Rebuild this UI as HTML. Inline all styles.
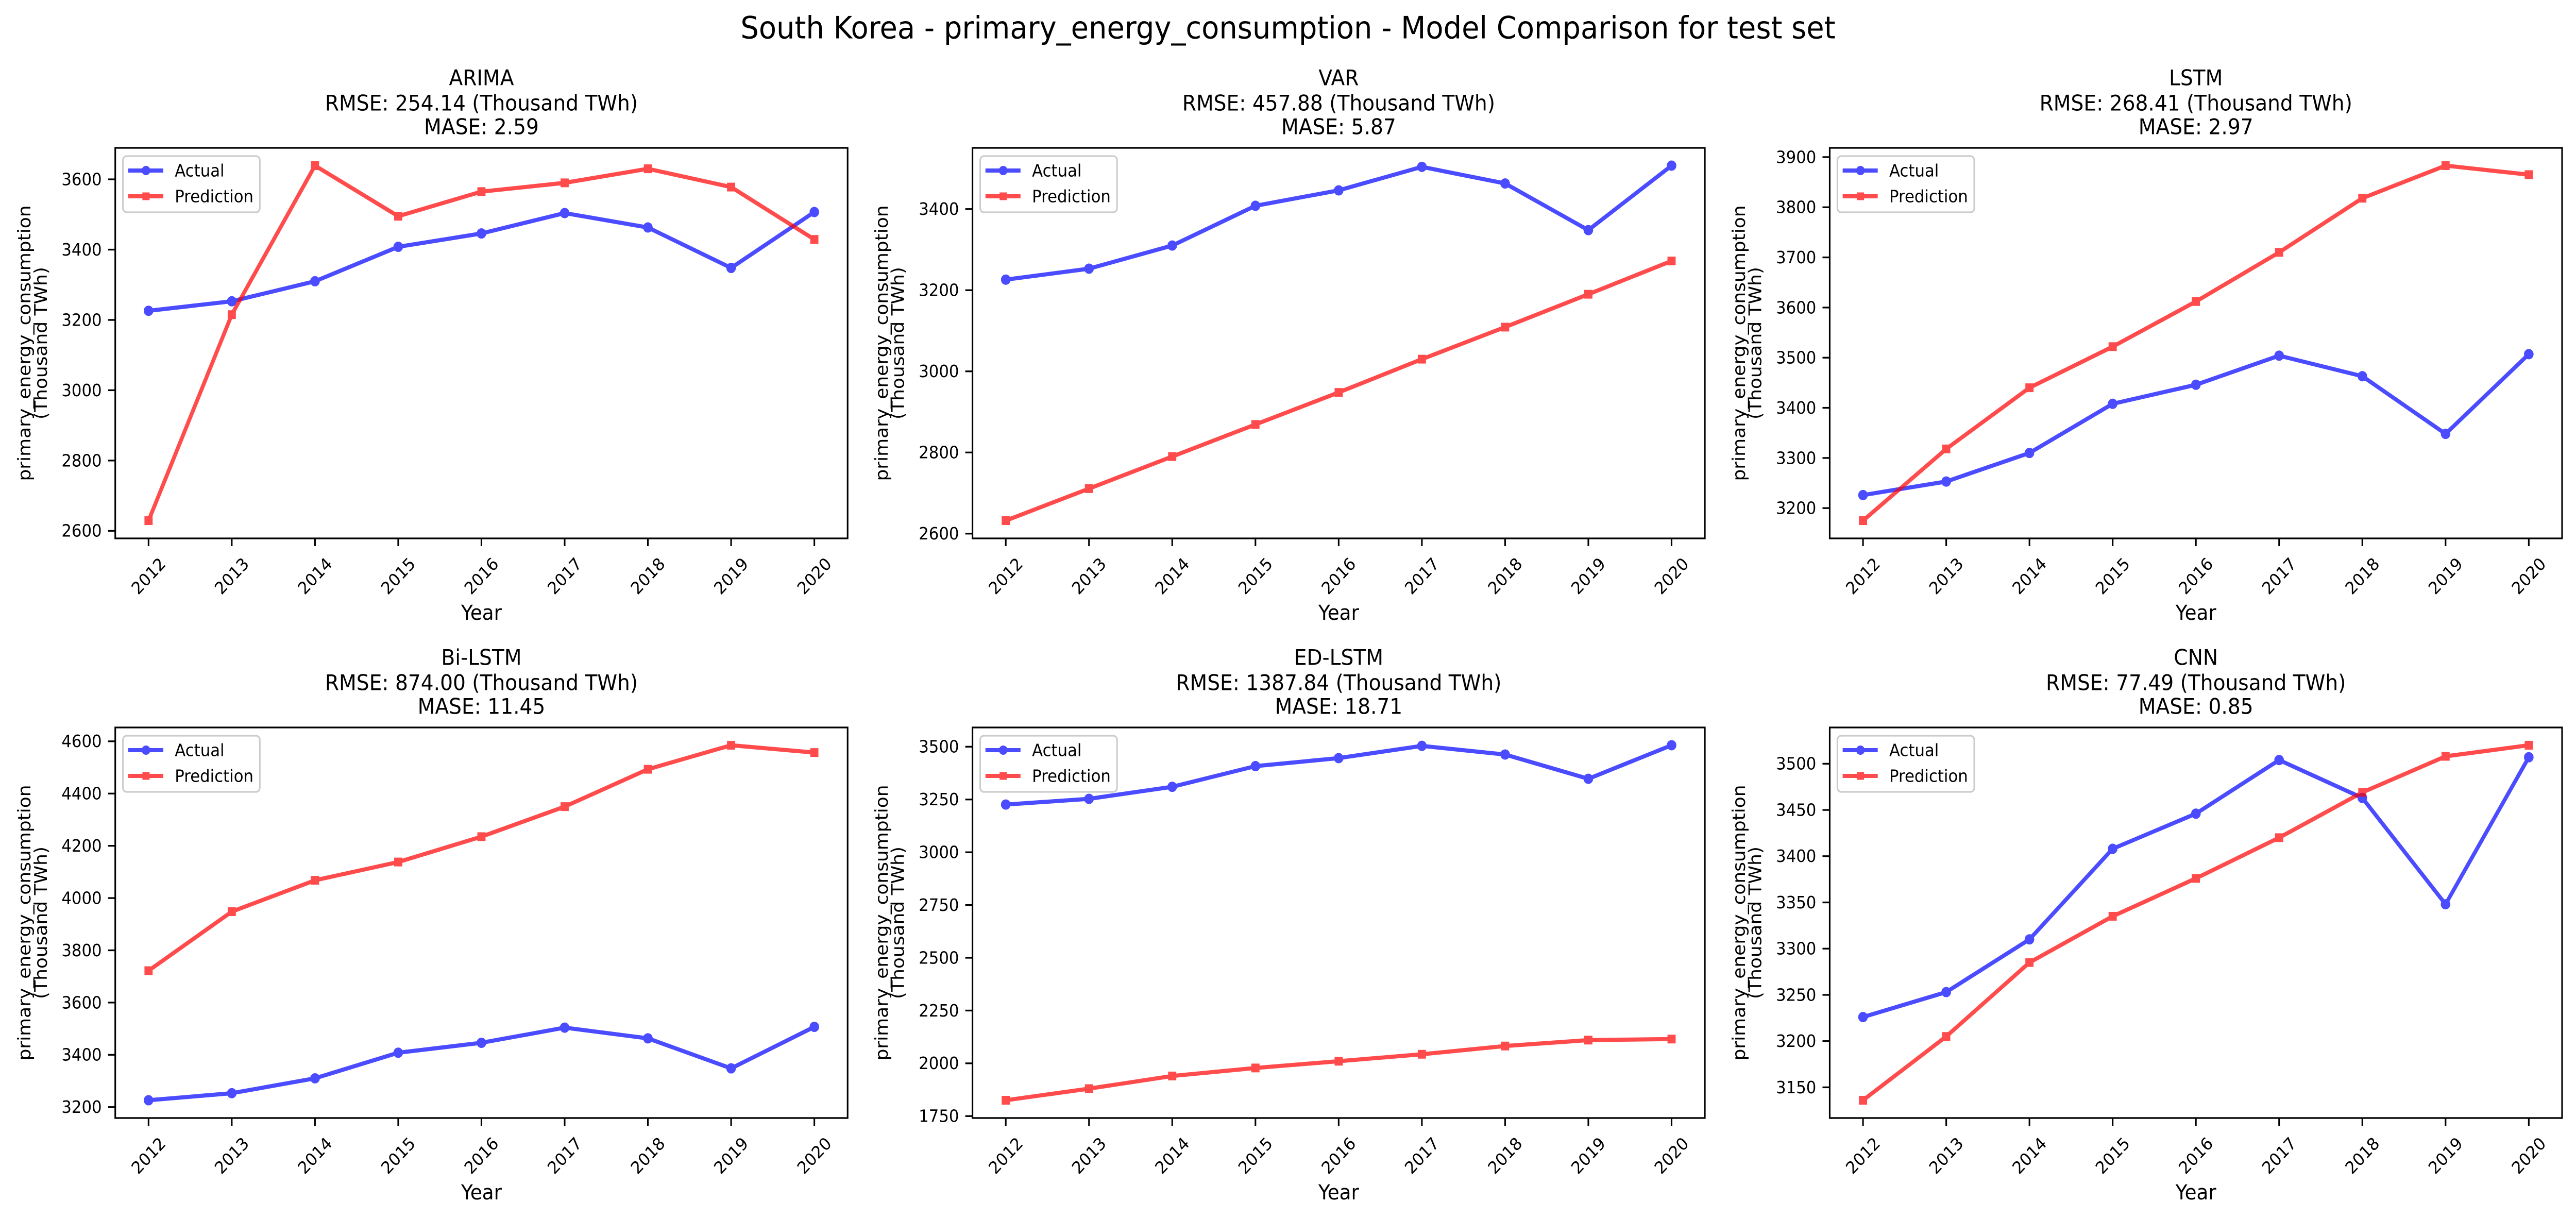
<!DOCTYPE html>
<html><head><meta charset="utf-8"><style>
html,body{margin:0;padding:0;background:#fff;width:100%;height:100%;overflow:hidden;}
svg{position:absolute;left:0;top:0;width:100vw;height:100vh;display:block;font-family:"DejaVu Sans","Liberation Sans",sans-serif;}
</style></head><body>
<svg id="fig" viewBox="0 0 5364 2366" preserveAspectRatio="none" xmlns="http://www.w3.org/2000/svg">
<rect width="5364" height="2366" fill="#fff"/>
<text x="2682" y="54" font-size="60" text-anchor="middle" dominant-baseline="central">South Korea - primary_energy_consumption - Model Comparison for test set</text>
</svg>
<script>
const years = [2012,2013,2014,2015,2016,2017,2018,2019,2020];
const actual = [3226,3253,3310,3408,3446,3504,3463,3348,3507];
const predArima = [2629,3215,3639,3495,3565,3590,3630,3578,3429];
const predVar = [2632,2711,2790,2869,2948,3030,3109,3190,3272];
const predLstm = [3175,3318,3440,3522,3612,3710,3818,3883,3865];
const predBiLstm = [3722,3948,4068,4138,4235,4350,4493,4585,4557];
const predEdLstm = [1825,1880,1940,1978,2010,2043,2082,2110,2115];
const predCnn = [3136,3205,3285,3335,3376,3420,3469,3508,3520];
const modelNames = ["ARIMA","VAR","LSTM","Bi-LSTM","ED-LSTM","CNN"];
const rmseLabels = ["254.14","457.88","268.41","874.00","1387.84","77.49"];
const maseLabels = ["2.59","5.87","2.97","11.45","18.71","0.85"];
const ticksArima = [2600,2800,3000,3200,3400,3600];
const ticksVar = [2600,2800,3000,3200,3400];
const ticksLstm = [3200,3300,3400,3500,3600,3700,3800,3900];
const ticksBiLstm = [3200,3400,3600,3800,4000,4200,4400,4600];
const ticksEdLstm = [1750,2000,2250,2500,2750,3000,3250,3500];
const ticksCnn = [3150,3200,3250,3300,3350,3400,3450,3500];

const preds = [predArima,predVar,predLstm,predBiLstm,predEdLstm,predCnn];
const yticks = [ticksArima,ticksVar,ticksLstm,ticksBiLstm,ticksEdLstm,ticksCnn];
const NS = "http://www.w3.org/2000/svg";
const svg = document.getElementById('fig');
function mk(tag, attrs, parent){
  const e = document.createElementNS(NS, tag);
  for (const k in attrs) e.setAttribute(k, attrs[k]);
  (parent||svg).appendChild(e);
  return e;
}
const colL = [240,2025,3810], rowT = [287,1412];
const W = 1525, H = 758;
const BLUE = "#0000ff", RED = "#ff0000";

for (let p=0;p<6;p++){
  const L = colL[p%3], T = rowT[Math.floor(p/3)], R = L+W, B = T+H;
  const pred = preds[p];
  const g = mk('g',{});
  
  
  const all = actual.concat(pred);
  const mn = Math.min(...all), mx = Math.max(...all);
  const pad = (mx-mn)*0.05;
  const y0 = mn-pad, y1 = mx+pad;
  const xr0 = years[0]-0.4, xr1 = years[years.length-1]+0.4;
  const xs = v => L + (v-xr0)/(xr1-xr0)*W;
  const ys = v => B - (v-y0)/(y1-y0)*H;

  const tl = [modelNames[p], "RMSE: "+rmseLabels[p]+" (Thousand TWh)", "MASE: "+maseLabels[p]];
  const toff = [136,87,41];
  for (let i=0;i<3;i++){
    const t = mk('text',{x:L+W/2,y:T-toff[i],'font-size':42,'text-anchor':'middle','dominant-baseline':'central'},g);
    t.textContent = tl[i];
    
    
  }
  for (const tv of yticks[p]){
    const y = ys(tv);
    const tk = mk('line',{x1:L-15,x2:L,y1:y,y2:y,stroke:'#000','stroke-width':3.3},g);
    
    
    const t = mk('text',{x:L-28,y:y,'font-size':33,'text-anchor':'end','dominant-baseline':'central'},g);
    t.textContent = tv;
    
    
  }
  for (const yr of years){
    const x = xs(yr);
    const tk = mk('line',{x1:x,x2:x,y1:B,y2:B+15,stroke:'#000','stroke-width':3.3},g);
    
    
    const t = mk('text',{x:0,y:0,'font-size':33,'text-anchor':'middle','dominant-baseline':'central',transform:`translate(${x},${B+73}) rotate(-45)`},g);
    t.textContent = yr;
    
    
  }
  const xl = mk('text',{x:L+W/2,y:B+145,'font-size':40,'text-anchor':'middle','dominant-baseline':'central'},g);
  xl.textContent = "Year";
  
  
  const yl1 = mk('text',{x:0,y:0,'font-size':36,'text-anchor':'middle','dominant-baseline':'central',transform:`translate(${L-188},${T+H/2}) rotate(-90)`},g);
  yl1.textContent = "primary_energy_consumption";
  
  
  const yl2 = mk('text',{x:0,y:0,'font-size':36,'text-anchor':'middle','dominant-baseline':'central',transform:`translate(${L-154},${T+H/2}) rotate(-90)`},g);
  yl2.textContent = "(Thousand TWh)";
  
  

  function series(vals, color, marker, name){
    const sg = mk('g',{opacity:0.7},g);
    
    
    const pts = vals.map((v,i)=>xs(years[i])+','+ys(v)).join(' ');
    mk('polyline',{points:pts,fill:'none',stroke:color,'stroke-width':8,'stroke-linejoin':'round','stroke-linecap':'butt'},sg);
    vals.forEach((v,i)=>{
      const x = xs(years[i]), y = ys(v);
      let m;
      if (marker==='o') m = mk('circle',{cx:x,cy:y,r:9,fill:color,stroke:color,'stroke-width':2},sg);
      else m = mk('rect',{x:x-7.5,y:y-7.5,width:15,height:15,fill:color,stroke:color,'stroke-width':2},sg);
      
      
    });
  }
  series(actual, BLUE, 'o', 'actual-series');
  series(pred, RED, 's', 'prediction-series');

  const fr = mk('rect',{x:L,y:T,width:W,height:H,fill:'none',stroke:'#000','stroke-width':3.3},g);
  
  

  const lg = mk('g',{},g);
  
  
  mk('rect',{x:L+16,y:T+16,width:285,height:109,rx:8,fill:'#fff','fill-opacity':0.8,stroke:'#cccccc','stroke-width':3.3},lg);
  const items = [["Actual",BLUE,'o',T+44],["Prediction",RED,'s',T+94]];
  for (const it of items){
    const eg = mk('g',{},lg);
    
    
    const sg = mk('g',{opacity:0.7},eg);
    mk('line',{x1:L+27,x2:L+100,y1:it[3],y2:it[3],stroke:it[1],'stroke-width':8},sg);
    if (it[2]==='o') mk('circle',{cx:L+64,cy:it[3],r:9,fill:it[1]},sg);
    else mk('rect',{x:L+56.5,y:it[3]-7.5,width:15,height:15,fill:it[1]},sg);
    const t = mk('text',{x:L+124,y:it[3],'font-size':33,'dominant-baseline':'central'},eg);
    t.textContent = it[0];
  }
}
</script>
</body></html>
